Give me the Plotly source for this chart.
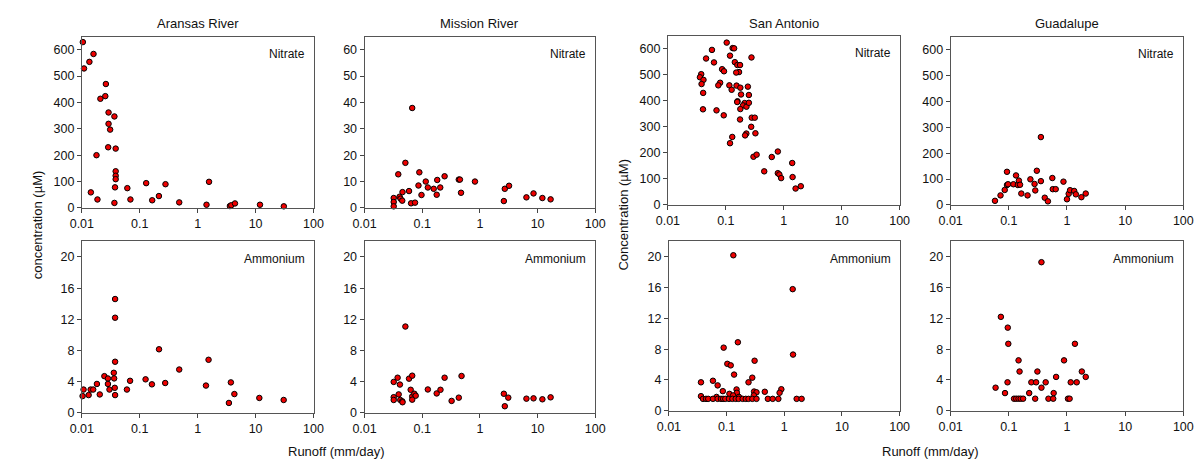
import plotly.graph_objects as go

# ---------------- data ----------------
aransas_no3_x = [0.0104, 0.0109, 0.0135, 0.0159, 0.026, 0.0254, 0.0209, 0.0289, 0.0365, 0.0289, 0.0308,
                 0.0285, 0.0384, 0.0179, 0.0384, 0.0384, 0.0384, 0.0374, 0.0365, 0.0143, 0.0186, 0.061,
                 0.069, 0.129, 0.164, 0.214, 0.278, 0.48, 1.42, 1.57, 3.6, 3.8, 4.4, 11.9, 30.7]
aransas_no3_y = [629, 529, 554, 584, 470, 424, 414, 362, 347, 319, 297,
                 230, 225, 200, 139, 122, 109, 78, 19, 59, 32, 75,
                 32, 94, 29, 45, 90, 21, 12, 99, 7, 10, 17, 12, 6]

mission_no3_x = [0.032, 0.032, 0.032, 0.0405, 0.042, 0.045, 0.0455, 0.0384, 0.051, 0.059, 0.064, 0.075,
                 0.067, 0.086, 0.089, 0.097, 0.115, 0.125, 0.158, 0.178, 0.182, 0.205, 0.244, 0.43,
                 0.45, 0.47, 0.82, 2.6, 2.7, 3.2, 6.4, 8.5, 12.1, 16.8]
mission_no3_y = [3.75, 2.25, 0.6, 4.25, 3.5, 2.75, 6.0, 12.75, 17.1, 6.4, 1.75, 2.0,
                 37.9, 8.5, 13.5, 4.9, 10.0, 7.75, 7.25, 5.0, 10.6, 7.75, 12.0, 10.75,
                 10.75, 5.75, 10.0, 2.6, 7.25, 8.4, 4.0, 5.5, 3.75, 3.25]

sanantonio_no3_x = [0.1035, 0.0576, 0.0456, 0.0624, 0.118, 0.131, 0.139, 0.143, 0.158, 0.176, 0.169, 0.151,
                    0.0862, 0.093, 0.277, 0.0376, 0.0357, 0.0411, 0.0381, 0.0797, 0.0741, 0.0406, 0.115,
                    0.126, 0.153, 0.178, 0.24, 0.25, 0.183, 0.159, 0.157, 0.211, 0.198, 0.227, 0.25, 0.178,
                    0.0403, 0.069, 0.092, 0.176, 0.28, 0.316, 0.274, 0.324, 0.226, 0.215, 0.129, 0.118,
                    0.30, 0.34, 0.46, 0.62, 0.79, 0.79, 0.84, 0.90, 1.4, 1.42, 1.6, 1.97]
sanantonio_no3_y = [623, 595, 562, 547, 573, 602, 601, 548, 537, 537, 510, 508,
                    521, 513, 566, 502, 490, 480, 464, 469, 459, 430, 459,
                    442, 458, 450, 454, 422, 424, 398, 395, 391, 382, 377, 392, 368,
                    367, 363, 344, 328, 335, 335, 300, 275, 274, 267, 261, 237,
                    185, 193, 129, 184, 205, 122, 117, 103, 161, 107, 63, 72]

guadalupe_no3_x = [0.0578, 0.072, 0.085, 0.093, 0.093, 0.097, 0.12, 0.133, 0.143, 0.149, 0.156, 0.164,
                   0.21, 0.235, 0.277, 0.285, 0.303, 0.356, 0.356, 0.415, 0.47, 0.56, 0.57, 0.64,
                   0.87, 1.0, 1.07, 1.13, 1.33, 1.42, 1.77, 2.1]
guadalupe_no3_y = [16, 37, 58, 77, 128, 80, 80, 114, 77, 94, 78, 44,
                   37, 99, 81, 56, 132, 92, 262, 28, 14, 104, 61, 61,
                   90, 22, 43, 57, 54, 41, 30, 44]

aransas_nh4_x = [0.0103, 0.0107, 0.0131, 0.0142, 0.0157, 0.0182, 0.0204, 0.0245, 0.0282, 0.0282, 0.030,
                 0.0356, 0.0361, 0.037, 0.0375, 0.0375, 0.0375, 0.0375, 0.060, 0.068, 0.126, 0.162,
                 0.215, 0.275, 0.48, 1.39, 1.54, 3.46, 3.74, 4.3, 11.6, 30.5]
aransas_nh4_y = [2.14, 2.98, 2.27, 2.98, 2.98, 3.7, 2.35, 4.7, 4.4, 3.7, 2.98,
                 5.13, 4.41, 3.2, 2.27, 6.55, 12.2, 14.6, 2.98, 4.1, 4.29, 3.65,
                 8.15, 3.82, 5.55, 3.49, 6.8, 1.26, 3.9, 2.4, 1.9, 1.64]

mission_nh4_x = [0.032, 0.032, 0.032, 0.0374, 0.039, 0.041, 0.0416, 0.045, 0.0455, 0.051, 0.059, 0.063,
                 0.067, 0.067, 0.067, 0.073, 0.077, 0.125, 0.178, 0.207, 0.244, 0.323, 0.43, 0.48,
                 2.6, 2.7, 3.1, 6.4, 8.5, 12.1, 16.8]
mission_nh4_y = [3.96, 2.0, 1.64, 4.5, 2.36, 3.62, 1.64, 1.47, 1.35, 11.07, 4.38, 2.95,
                 4.76, 2.1, 1.68, 2.44, 2.19, 2.99, 2.48, 2.95, 4.5, 1.52, 1.94, 4.72,
                 2.44, 0.84, 1.94, 1.81, 1.85, 1.73, 1.98]

sanantonio_nh4_x = [0.131, 1.4, 0.157, 0.089, 1.42, 0.103, 0.118, 0.306, 0.135, 0.279, 0.24, 0.036,
                    0.058, 0.070, 0.086, 0.149, 0.151, 0.112, 0.30, 0.33, 0.297, 0.46, 0.89, 0.83,
                    0.036, 0.067, 0.13, 0.164,
                    0.039, 0.044, 0.048, 0.058, 0.070, 0.08, 0.087, 0.095, 0.11, 0.126, 0.144, 0.162,
                    0.19, 0.215, 0.24, 0.28, 0.33, 0.52, 0.63, 0.79, 1.64, 2.0]
sanantonio_nh4_y = [20.2, 15.8, 8.9, 8.2, 7.3, 6.1, 5.9, 6.5, 4.7, 4.3, 3.7, 3.7,
                    3.9, 3.3, 2.55, 2.77, 2.34, 2.2, 2.5, 2.4, 2.0, 2.47, 2.8, 2.34,
                    1.9, 1.8, 2.0, 1.8,
                    1.55, 1.55, 1.55, 1.55, 1.55, 1.55, 1.55, 1.55, 1.55, 1.55, 1.55, 1.55,
                    1.55, 1.55, 1.55, 1.55, 1.55, 1.55, 1.55, 1.55, 1.55, 1.55]

guadalupe_nh4_x = [0.364, 0.073, 0.096, 0.098, 1.37, 0.147, 0.89, 0.153, 0.31, 1.8, 0.65, 2.1,
                   0.0592, 0.095, 0.244, 0.295, 0.43, 0.364, 1.16, 1.47, 0.086, 0.224, 0.59,
                   0.123, 0.134, 0.147, 0.16, 0.176, 0.284, 0.48, 0.58, 1.04, 1.11]
guadalupe_nh4_y = [19.3, 12.2, 10.8, 8.7, 8.7, 6.55, 6.55, 5.1, 5.1, 5.1, 4.4, 4.4,
                   3.0, 3.7, 3.7, 3.7, 3.7, 3.0, 3.7, 3.7, 2.3, 2.3, 2.3,
                   1.57, 1.57, 1.57, 1.57, 1.57, 1.57, 1.57, 1.57, 1.57, 1.57]

rivers = ["Aransas River", "Mission River", "San Antonio", "Guadalupe"]
x_ticks = [0.01, 0.1, 1, 10, 100]
x_tick_labels = ["0.01", "0.1", "1", "10", "100"]
nitrate_ticks_big = [0, 100, 200, 300, 400, 500, 600]
nitrate_ticks_small = [0, 10, 20, 30, 40, 50, 60]
ammonium_ticks = [0, 4, 8, 12, 16, 20]

# ---------------- layout ----------------
W, H = 1202, 461
FONT = "Liberation Sans, Arial, sans-serif"
TXT = "#111"
# pixel boxes: (x0, x1, ytop, ybottom)
boxes = [
    (63, 299, 29, 203), (351, 586, 29, 203), (660, 896, 28, 200), (948, 1185, 29, 200),
    (63, 299, 237, 411), (351, 586, 237, 411), (661, 896, 237, 409), (948, 1185, 237, 409),
]
series = [
    (aransas_no3_x, aransas_no3_y, [0, 650], nitrate_ticks_big),
    (mission_no3_x, mission_no3_y, [0, 65], nitrate_ticks_small),
    (sanantonio_no3_x, sanantonio_no3_y, [0, 650], nitrate_ticks_big),
    (guadalupe_no3_x, guadalupe_no3_y, [0, 650], nitrate_ticks_big),
    (aransas_nh4_x, aransas_nh4_y, [0, 22], ammonium_ticks),
    (mission_nh4_x, mission_nh4_y, [0, 22], ammonium_ticks),
    (sanantonio_nh4_x, sanantonio_nh4_y, [0, 22], ammonium_ticks),
    (guadalupe_nh4_x, guadalupe_nh4_y, [0, 22], ammonium_ticks),
]

fig = go.Figure()
layout = dict(
    width=W, height=H, margin=dict(l=0, r=0, t=0, b=0),
    paper_bgcolor="white", plot_bgcolor="white", showlegend=False,
    font=dict(family=FONT, size=12, color=TXT),
)
annotations = []
for i, ((x0, x1, yt, yb), (xs, ys, yr, yt_vals)) in enumerate(zip(boxes, series)):
    n = i + 1
    xa = "xaxis" if n == 1 else f"xaxis{n}"
    ya = "yaxis" if n == 1 else f"yaxis{n}"
    fig.add_trace(go.Scatter(
        x=xs, y=ys, mode="markers",
        xaxis="x" if n == 1 else f"x{n}", yaxis="y" if n == 1 else f"y{n}",
        marker=dict(color="#ee0000", size=5.5, line=dict(color="black", width=1)),
        cliponaxis=False, hoverinfo="x+y",
    ))
    layout[xa] = dict(
        type="log", range=[-2, 2], domain=[x0 / W, x1 / W],
        anchor="y" if n == 1 else f"y{n}",
        tickvals=x_ticks, ticktext=x_tick_labels, ticks="outside", ticklen=4,
        tickcolor="#444", showline=True, linecolor="#555", linewidth=1, mirror=True,
        showgrid=False, zeroline=False, tickfont=dict(size=12.5, color=TXT),
    )
    layout[ya] = dict(
        range=yr, domain=[1 - yb / H, 1 - yt / H],
        anchor="x" if n == 1 else f"x{n}",
        tickvals=yt_vals, ticks="outside", ticklen=4,
        tickcolor="#444", showline=True, linecolor="#555", linewidth=1, mirror=True,
        showgrid=False, zeroline=False, tickfont=dict(size=12.5, color=TXT),
    )
    label = "Nitrate" if i < 4 else "Ammonium"
    annotations.append(dict(
        text=label, xref="paper", yref="paper", x=(x1 - 7) / W, y=1 - (yt + 18) / H,
        xanchor="right", yanchor="middle", showarrow=False, font=dict(size=12, color=TXT),
    ))
    if i < 4:
        annotations.append(dict(
            text=rivers[i], xref="paper", yref="paper", x=(x0 + x1) / 2 / W, y=1 - 16 / H,
            xanchor="center", yanchor="middle", showarrow=False, font=dict(size=13, color=TXT),
        ))

annotations += [
    dict(text="concentration (µM)", xref="paper", yref="paper", x=18 / W, y=1 - 220 / H,
         textangle=-90, xanchor="center", yanchor="middle", showarrow=False, font=dict(size=13, color=TXT)),
    dict(text="Concentration (µM)", xref="paper", yref="paper", x=615 / W, y=1 - 210 / H,
         textangle=-90, xanchor="center", yanchor="middle", showarrow=False, font=dict(size=13, color=TXT)),
    dict(text="Runoff (mm/day)", xref="paper", yref="paper", x=322 / W, y=1 - 450 / H,
         xanchor="center", yanchor="middle", showarrow=False, font=dict(size=13, color=TXT)),
    dict(text="Runoff (mm/day)", xref="paper", yref="paper", x=927 / W, y=1 - 450 / H,
         xanchor="center", yanchor="middle", showarrow=False, font=dict(size=13, color=TXT)),
]
layout["annotations"] = annotations
fig.update_layout(**layout)
fig.write_html("out.html")
